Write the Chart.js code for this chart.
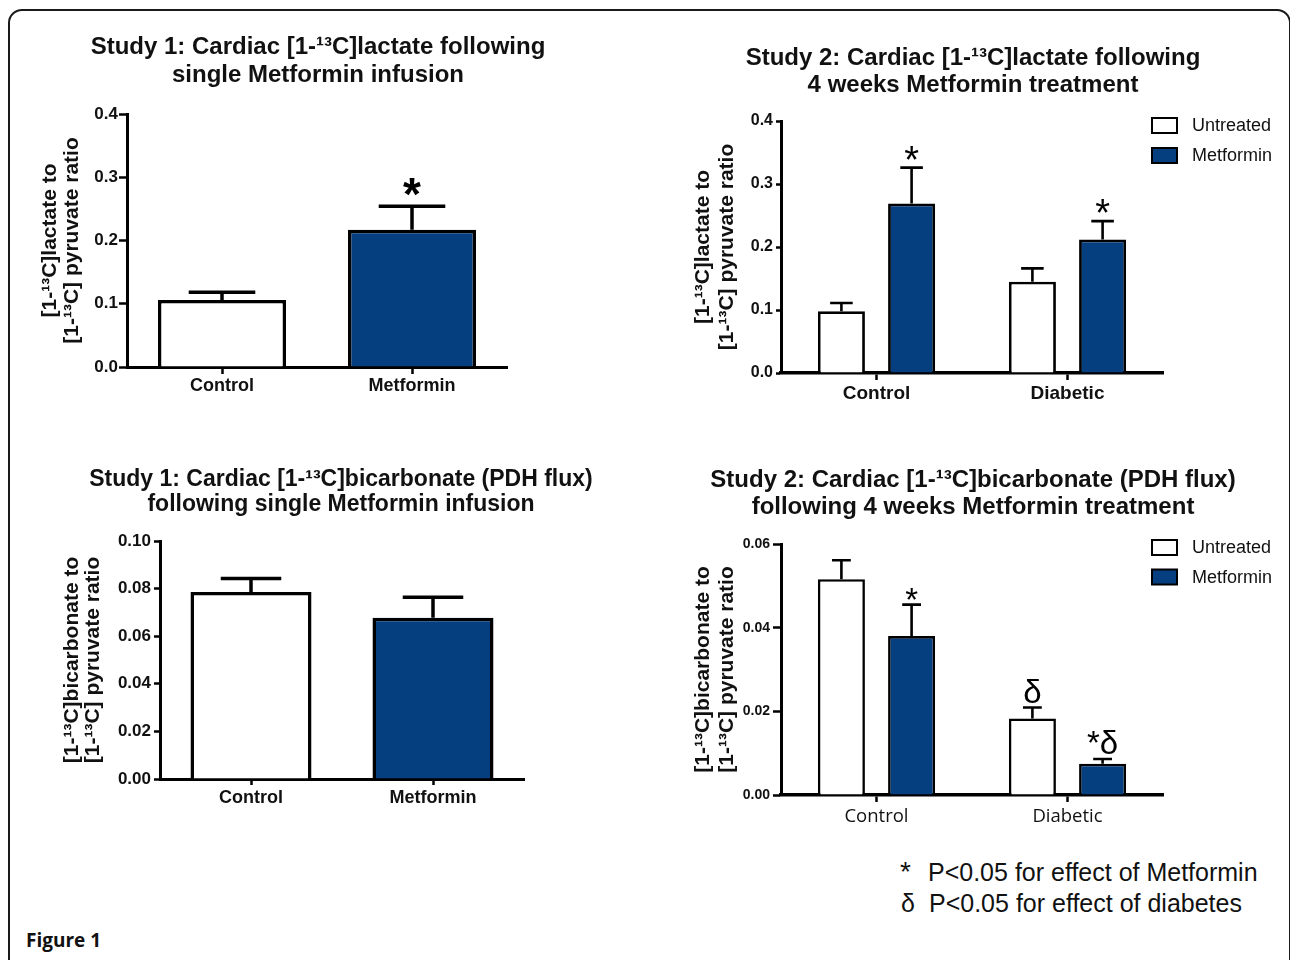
<!DOCTYPE html>
<html>
<head>
<meta charset="utf-8">
<script src="https://cdn.jsdelivr.net/npm/chart.js@4.4.1/dist/chart.umd.min.js"></script>
<style>
  html, body { margin: 0; padding: 0; background: #fff; }
  body { width: 1290px; height: 960px; position: relative; overflow: hidden; }
  .frame { position: absolute; left: 8px; top: 9px; width: 1279px; height: 1000px; border: 2px solid #1a1a1a; border-radius: 14px; box-sizing: content-box; }
  canvas { position: absolute; }
  .note { position: absolute; left: 0; font-family: "Liberation Sans", Arial, sans-serif; font-size: 25px; line-height: 30px; color: #111; white-space: nowrap; }
  .note .sym { position: absolute; left: 900px; }
  .note .txt { position: absolute; left: 928px; }
  .fig { position: absolute; left: 26px; top: 927px; font-family: "Open Sans", sans-serif; font-weight: bold; font-size: 19px; line-height: 26px; color: #111; }
</style>
</head>
<body>
<div class="frame"></div>
<canvas id="c1" width="596" height="400" style="left:20px; top:18px;"></canvas>
<canvas id="c2" width="626" height="400" style="left:660px; top:18px;"></canvas>
<canvas id="c3" width="602" height="400" style="left:40px; top:440px;"></canvas>
<canvas id="c4" width="626" height="400" style="left:660px; top:440px;"></canvas>
<div class="note" style="top:857px;"><span class="sym" style="font-size:28px;">*</span><span class="txt">P&lt;0.05 for effect of Metformin</span></div>
<div class="note" style="top:888px;"><span class="sym" style="left:901px;">δ</span><span class="txt" style="left:929px;">P&lt;0.05 for effect of diabetes</span></div>
<div class="fig">Figure 1</div>
<script>
// ---------------- DATA ----------------
const seriesNames = ['Untreated', 'Metformin'];

// Study 1 – lactate
const study1Categories = ['Control', 'Metformin'];
const lactate1Values = [0.106, 0.217];
const lactate1Sem = [0.012, 0.037];
const lactate1Marks = ['', '*'];
const lactate1Ticks = ['0.0', '0.1', '0.2', '0.3', '0.4'];

// Study 2 – lactate
const study2Categories = ['Control', 'Diabetic'];
const lactate2Untreated = [0.098, 0.145];
const lactate2UntreatedSem = [0.013, 0.021];
const lactate2Metformin = [0.269, 0.212];
const lactate2MetforminSem = [0.057, 0.029];
const lactate2UntreatedMarks = ['', ''];
const lactate2MetforminMarks = ['*', '*'];
const lactate2Ticks = ['0.0', '0.1', '0.2', '0.3', '0.4'];

// Study 1 – bicarbonate
const bicarb1Values = [0.0786, 0.0677];
const bicarb1Sem = [0.0056, 0.0087];
const bicarb1Marks = ['', ''];
const bicarb1Ticks = ['0.00', '0.02', '0.04', '0.06', '0.08', '0.10'];

// Study 2 – bicarbonate
const bicarb2Untreated = [0.0516, 0.0183];
const bicarb2UntreatedSem = [0.0045, 0.0026];
const bicarb2Metformin = [0.0380, 0.0075];
const bicarb2MetforminSem = [0.0075, 0.0011];
const bicarb2UntreatedMarks = ['', 'δ'];
const bicarb2MetforminMarks = ['*', '*δ'];
const bicarb2Ticks = ['0.00', '0.02', '0.04', '0.06'];

// ---------------- STYLE ----------------
const SANS = '"Liberation Sans", Arial, sans-serif';
const WHITE = '#ffffff';
const BLUE = '#063f7f';

// error bars + significance marks, drawn from the bar elements and the y scale
const errorBarPlugin = {
  id: 'errorBars',
  afterDatasetsDraw(chart, args, o) {
    const ctx = chart.ctx;
    const ys = chart.scales.y;
    chart.data.datasets.forEach((ds, di) => {
      const meta = chart.getDatasetMeta(di);
      meta.data.forEach((bar, i) => {
        const v = ds.data[i], e = ds.errors[i];
        const x = bar.x;
        const base = ys.getPixelForValue(v);
        const top = ys.getPixelForValue(v + e);
        const cap = bar.width * o.capFrac / 2;
        ctx.save();
        ctx.strokeStyle = '#000';
        ctx.lineWidth = o.lineWidth;
        ctx.beginPath();
        ctx.moveTo(x, base);
        ctx.lineTo(x, top);
        ctx.moveTo(x - cap, top);
        ctx.lineTo(x + cap, top);
        ctx.stroke();
        const m = ds.marks ? ds.marks[i] : '';
        if (m) {
          ctx.font = o.markFont;
          ctx.fillStyle = '#000';
          ctx.textAlign = 'center';
          ctx.textBaseline = 'alphabetic';
          const tm = ctx.measureText(m);
          const yb = top - o.markGap - tm.actualBoundingBoxDescent;
          ctx.fillText(m, x, yb);
        }
        ctx.restore();
      });
    });
  }
};

// small boxed legend placed at the top-right corner of the plot area
const boxLegendPlugin = {
  id: 'boxLegend',
  afterDraw(chart, args, o) {
    if (!o.show) return;
    const { ctx, chartArea } = chart;
    chart.data.datasets.forEach((ds, i) => {
      const x = chartArea.right + o.dx;
      const y = chartArea.top + o.dy + i * o.step;
      ctx.save();
      ctx.fillStyle = ds.backgroundColor;
      ctx.fillRect(x, y, o.boxW, o.boxH);
      ctx.strokeStyle = '#000';
      ctx.lineWidth = o.lineWidth;
      ctx.strokeRect(x, y, o.boxW, o.boxH);
      ctx.fillStyle = '#111';
      ctx.font = o.font;
      ctx.textAlign = 'left';
      ctx.textBaseline = 'middle';
      ctx.fillText(ds.label, x + o.textDx, y + o.boxH / 2 + 1);
      ctx.restore();
    });
  }
};

function build(id, p) {
  const yMax = parseFloat(p.yTicks[p.yTicks.length - 1]);
  const yStep = parseFloat(p.yTicks[1]);
  return new Chart(document.getElementById(id), {
    type: 'bar',
    data: { labels: p.labels, datasets: p.datasets },
    options: {
      responsive: false,
      animation: false,
      devicePixelRatio: 1,
      layout: { padding: 0 },
      datasets: {
        bar: {
          categoryPercentage: p.catPct,
          barPercentage: p.barPct,
          borderColor: '#000',
          borderWidth: p.barBorder,
          borderSkipped: 'start'
        }
      },
      plugins: {
        legend: { display: false },
        tooltip: { enabled: false },
        title: {
          display: true,
          text: p.title,
          color: '#111',
          fullSize: true,
          font: { family: SANS, size: p.titleSize, weight: 'bold', lineHeight: p.titleLH },
          padding: { top: p.titleTop, bottom: p.titleBottom }
        },
        errorBars: p.err,
        boxLegend: p.legend
      },
      scales: {
        x: {
          type: 'category',
          offset: true,
          z: 1,
          grid: { display: true, drawOnChartArea: false, offset: false, tickLength: p.xTickLen, tickWidth: p.tickWidth, tickColor: '#000' },
          border: { display: true, color: '#000', width: p.xAxisWidth },
          ticks: { color: '#111', font: p.xFont, padding: p.xPad, maxRotation: 0, autoSkip: false },
          afterFit: s => { s.height = p.xHeight; }
        },
        y: {
          type: 'linear',
          min: 0,
          max: yMax,
          z: 1,
          grid: { display: true, drawOnChartArea: false, tickLength: p.yTickLen, tickWidth: p.tickWidth, tickColor: '#000' },
          border: { display: true, color: '#000', width: p.yAxisWidth },
          ticks: {
            stepSize: yStep,
            color: '#111',
            font: p.yFont,
            padding: p.yPad,
            callback: (v, i) => p.yTicks[i]
          },
          title: {
            display: true,
            text: p.yTitle,
            color: '#111',
            font: { family: SANS, size: p.yTitleSize, weight: 'bold', lineHeight: p.yTitleLH },
            padding: { top: p.yTitleTop, bottom: 0 }
          },
          afterFit: s => { s.width = p.yWidth; }
        },
        pad: {
          type: 'linear',
          position: 'right',
          display: true,
          grid: { display: false },
          border: { display: false },
          ticks: { display: false },
          afterFit: s => { s.width = p.padWidth; }
        }
      }
    },
    plugins: [errorBarPlugin, boxLegendPlugin]
  });
}

// Panel 1
build('c1', {
  labels: study1Categories,
  datasets: [{
    label: 'Study 1 lactate',
    data: lactate1Values,
    errors: lactate1Sem,
    marks: lactate1Marks,
    yAxisID: 'y',
    backgroundColor: [WHITE, BLUE]
  }],
  catPct: 1, barPct: 0.674, barBorder: 3.5,
  title: ['Study 1: Cardiac [1-¹³C]lactate following', 'single Metformin infusion'],
  titleSize: 24, titleLH: '28px', titleTop: 15, titleBottom: 25,
  yTitle: ['[1-¹³C]lactate to', '[1-¹³C] pyruvate ratio'],
  yTitleSize: 21, yTitleLH: '22px', yTitleTop: 19,
  yTicks: lactate1Ticks,
  yFont: { family: SANS, size: 17, weight: 'bold' }, yPad: 1, yTickLen: 8,
  xFont: { family: SANS, size: 18, weight: 'bold' }, xPad: 1, xTickLen: 7,
  tickWidth: 2.5, xAxisWidth: 3, yAxisWidth: 3,
  yWidth: 107, padWidth: 109, xHeight: 51,
  err: { lineWidth: 3.5, capFrac: 0.52, markFont: 'bold 46px ' + SANS, markGap: 10 },
  legend: { show: false }
});

// Panel 2
build('c2', {
  labels: study2Categories,
  datasets: [
    { label: seriesNames[0], data: lactate2Untreated, errors: lactate2UntreatedSem, marks: lactate2UntreatedMarks, yAxisID: 'y', backgroundColor: WHITE },
    { label: seriesNames[1], data: lactate2Metformin, errors: lactate2MetforminSem, marks: lactate2MetforminMarks, yAxisID: 'y', backgroundColor: BLUE }
  ],
  catPct: 0.735, barPct: 0.67, barBorder: 2.8,
  title: ['Study 2: Cardiac [1-¹³C]lactate following', '4 weeks Metformin treatment'],
  titleSize: 24, titleLH: '27px', titleTop: 26.5, titleBottom: 22.5,
  yTitle: ['[1-¹³C]lactate to', '[1-¹³C] pyruvate ratio'],
  yTitleSize: 21, yTitleLH: '24px', yTitleTop: 31,
  yTicks: lactate2Ticks,
  yFont: { family: SANS, size: 16, weight: 'bold' }, yPad: 3, yTickLen: 5,
  xFont: { family: SANS, size: 19, weight: 'bold' }, xPad: 2, xTickLen: 7,
  tickWidth: 2.5, xAxisWidth: 3.5, yAxisWidth: 3,
  yWidth: 121, padWidth: 123, xHeight: 45,
  err: { lineWidth: 2.6, capFrac: 0.48, markFont: '38px ' + SANS, markGap: 8 },
  legend: { show: true, dx: -11, dy: -3, step: 30, boxW: 25, boxH: 15, lineWidth: 2, textDx: 40, font: '18px ' + SANS }
});

// Panel 3
build('c3', {
  labels: study1Categories,
  datasets: [{
    label: 'Study 1 bicarbonate',
    data: bicarb1Values,
    errors: bicarb1Sem,
    marks: bicarb1Marks,
    yAxisID: 'y',
    backgroundColor: [WHITE, BLUE]
  }],
  catPct: 1, barPct: 0.665, barBorder: 3.5,
  title: ['Study 1: Cardiac [1-¹³C]bicarbonate (PDH flux)', 'following single Metformin infusion'],
  titleSize: 23, titleLH: '25px', titleTop: 27.5, titleBottom: 23.5,
  yTitle: ['[1-¹³C]bicarbonate to', '[1-¹³C] pyruvate ratio'],
  yTitleSize: 21, yTitleLH: '21px', yTitleTop: 21.5,
  yTicks: bicarb1Ticks,
  yFont: { family: SANS, size: 17, weight: 'bold' }, yPad: 3, yTickLen: 6,
  xFont: { family: SANS, size: 18, weight: 'bold' }, xPad: 2, xTickLen: 6,
  tickWidth: 2.5, xAxisWidth: 3, yAxisWidth: 3,
  yWidth: 120, padWidth: 118, xHeight: 61,
  err: { lineWidth: 3.5, capFrac: 0.5, markFont: 'bold 46px ' + SANS, markGap: 10 },
  legend: { show: false }
});

// Panel 4
build('c4', {
  labels: study2Categories,
  datasets: [
    { label: seriesNames[0], data: bicarb2Untreated, errors: bicarb2UntreatedSem, marks: bicarb2UntreatedMarks, yAxisID: 'y', backgroundColor: WHITE },
    { label: seriesNames[1], data: bicarb2Metformin, errors: bicarb2MetforminSem, marks: bicarb2MetforminMarks, yAxisID: 'y', backgroundColor: BLUE }
  ],
  catPct: 0.735, barPct: 0.67, barBorder: 2.6,
  title: ['Study 2: Cardiac [1-¹³C]bicarbonate (PDH flux)', 'following 4 weeks Metformin treatment'],
  titleSize: 24, titleLH: '27px', titleTop: 26.5, titleBottom: 23.5,
  yTitle: ['[1-¹³C]bicarbonate to', '[1-¹³C] pyruvate ratio'],
  yTitleSize: 21, yTitleLH: '24px', yTitleTop: 31,
  yTicks: bicarb2Ticks,
  yFont: { family: SANS, size: 14, weight: 'bold' }, yPad: 3, yTickLen: 8,
  xFont: { family: '"Open Sans", sans-serif', size: 18.5 }, xPad: 4, xTickLen: 7,
  tickWidth: 2.5, xAxisWidth: 3.5, yAxisWidth: 3,
  yWidth: 121, padWidth: 123, xHeight: 45,
  err: { lineWidth: 2.6, capFrac: 0.4, markFont: '33px ' + SANS, markGap: 5 },
  legend: { show: true, dx: -11, dy: -4, step: 29.5, boxW: 25, boxH: 15, lineWidth: 2, textDx: 40, font: '18px ' + SANS }
});
</script>
</body>
</html>
